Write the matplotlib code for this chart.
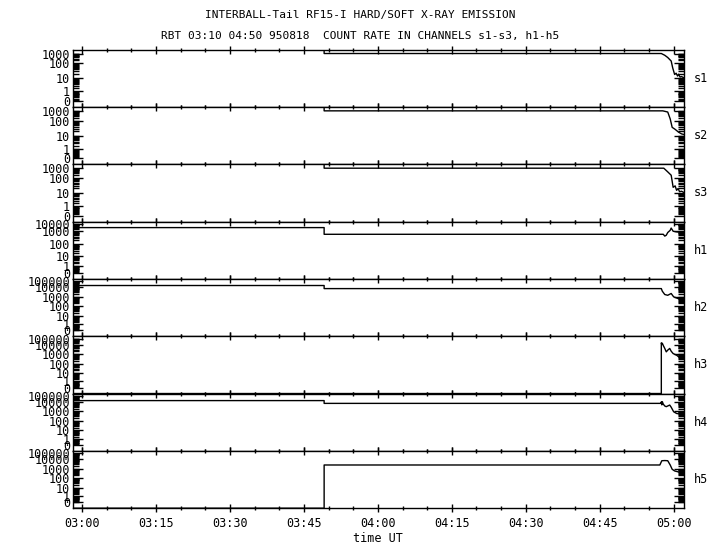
import numpy as np
import matplotlib
matplotlib.use("Agg")
import matplotlib.pyplot as plt
from matplotlib.ticker import FixedLocator, FuncFormatter, MultipleLocator

plt.rcParams['font.family'] = ['DejaVu Sans Mono']

# time in minutes after 03:00 UT, count rates per channel
# (values below 0 = below axis, very large = above axis)
t_s1 = [49.1, 49.1, 117.5, 118.2, 118.8, 119.5, 119.8, 120.2, 120.5, 120.8, 121.0, 121.3, 121.6, 122.0]
s1 = [1e6, 1000, 1000, 660, 390, 170, 51, 18, 22, 14, 19, 12, 13, 11]

t_s2 = [49.1, 49.1, 117.8, 118.8, 119.3, 119.7, 120.2, 120.6, 121.0, 121.6, 122.0]
s2 = [1e6, 1000, 1000, 760, 150, 36, 28, 22, 17, 13, 12]

t_s3 = [49.1, 49.1, 118.0, 118.8, 119.5, 119.9, 120.3, 120.6, 120.9, 121.2, 121.6, 122.0]
s3 = [1e6, 1000, 1000, 420, 190, 24, 30, 15, 20, 12, 13, 11]

t_h1 = [-1.9, 49.1, 49.1, 117.9, 118.2, 118.5, 118.8, 119.3, 119.5, 119.9, 120.6, 121.2, 122.0]
h1 = [3100, 3100, 590, 590, 430, 500, 800, 1350, 2700, 1000, 900, 850, 850]

t_h2 = [-1.9, 49.1, 49.1, 117.5, 117.7, 118.2, 118.8, 119.5, 120.0, 120.4, 120.9, 121.6, 122.0]
h2 = [21000, 21000, 7500, 7500, 3900, 1700, 1400, 2200, 950, 800, 630, 440, 420]

t_h3 = [-1.9, 117.5, 117.5, 117.6, 117.7, 117.9, 118.2, 118.5, 118.8, 119.2, 119.5, 119.9, 120.6, 121.2, 122.0]
h3 = [-1, -1, 21000, 12000, 18000, 8300, 4000, 1700, 2600, 4000, 2000, 1100, 750, 420, 350]

t_h4 = [-1.9, 49.1, 49.1, 117.4, 117.5, 117.6, 117.7, 117.9, 118.2, 118.5, 119.2, 119.5, 120.0, 120.6, 121.6, 122.0]
h4 = [18000, 18000, 7300, 7300, 11000, 5000, 12000, 6000, 3800, 3200, 4800, 2800, 900, 600, 500, 480]

t_h5 = [-1.9, 49.1, 49.1, 117.2, 117.6, 118.2, 118.8, 119.3, 119.7, 120.2, 120.9, 121.6, 122.0]
h5 = [-1, -1, 2500, 2500, 7300, 7600, 7300, 2500, 860, 580, 470, 350, 330]

channels = ["s1", "s2", "s3", "h1", "h2", "h3", "h4", "h5"]
times = [t_s1, t_s2, t_s3, t_h1, t_h2, t_h3, t_h4, t_h5]
counts = [s1, s2, s3, h1, h2, h3, h4, h5]

# tick values and where they sit on each panel (fraction of panel height)
ticks_s = [0, 1, 10, 100, 1000]
pos_s = [0.10, 0.27, 0.50, 0.76, 0.93]
ticks_h1 = [0, 1, 10, 100, 1000, 10000]
pos_h1 = [0.10, 0.23, 0.40, 0.60, 0.83, 0.96]
ticks_h = [0, 1, 10, 100, 1000, 10000, 100000]
pos_h = [0.10, 0.21, 0.36, 0.52, 0.69, 0.85, 0.955]
panel_ticks = [ticks_s] * 3 + [ticks_h1] + [ticks_h] * 4
panel_pos = [pos_s] * 3 + [pos_h1] + [pos_h] * 4


def make_scale(vals, pos):
    Lk = np.concatenate([[-0.3], np.log10(np.array(vals, float) + 1.0),
                         [np.log10(vals[-1] + 1.0) + 0.45]])
    pk = np.concatenate([[0.0], pos, [1.0]])

    def fwd(x):
        x = np.asarray(x, float)
        L = np.log10(np.clip(x + 1.0, 1e-9, None))
        return np.interp(L, Lk, pk)

    def inv(p):
        p = np.asarray(p, float)
        return 10 ** np.interp(p, pk, Lk) - 1.0

    return fwd, inv


fig = plt.figure(figsize=(7.2, 5.5), dpi=100)
axes = fig.subplots(8, 1, sharex=True)
fig.subplots_adjust(left=0.101, right=0.95, top=0.910, bottom=0.076, hspace=0)

for ax, name, t, c, tv, tp in zip(axes, channels, times, counts, panel_ticks, panel_pos):
    fwd, inv = make_scale(tv, tp)
    ax.set_yscale('function', functions=(fwd, inv))
    ax.plot(t, c, color='black', lw=1.0)
    ax.set_ylim(float(inv(0.0)), float(inv(1.0)))

    minors = [m * 10.0 ** k for k in range(-1, len(tv) - 2) for m in range(1, 10)
              if 0 < m * 10.0 ** k < tv[-1] and m * 10.0 ** k not in tv]
    ax.yaxis.set_major_locator(FixedLocator(tv))
    ax.yaxis.set_minor_locator(FixedLocator(minors))
    ax.yaxis.set_major_formatter(FuncFormatter(lambda v, _: f"{int(round(v))}"))
    ax.tick_params(axis='y', which='both', direction='in', left=True, right=True,
                   labelsize=8.5, pad=2)
    ax.tick_params(axis='y', which='major', length=7.5, width=1)
    ax.tick_params(axis='y', which='minor', length=4, width=1)

    ax.xaxis.set_major_locator(MultipleLocator(15))
    ax.xaxis.set_minor_locator(MultipleLocator(5))
    ax.tick_params(axis='x', which='both', direction='inout', top=True, bottom=True,
                   labelsize=8.5)
    ax.tick_params(axis='x', which='major', length=6, width=1)
    ax.tick_params(axis='x', which='minor', length=3, width=1)

    for sp in ax.spines.values():
        sp.set_linewidth(1.0)

    ax.text(1.016, 0.5, name, transform=ax.transAxes, ha='left', va='center', fontsize=8.5)

axes[-1].set_xlim(-1.9, 122.1)
axes[-1].xaxis.set_major_formatter(
    FuncFormatter(lambda m, _: f"{3 + int(m // 60):02d}:{int(round(m % 60)):02d}"))
axes[-1].set_xlabel("time UT", fontsize=8.5, labelpad=1)

fig.text(0.5, 1 - 15 / 550, "INTERBALL-Tail RF15-I HARD/SOFT X-RAY EMISSION",
         ha='center', va='center', fontsize=8)
fig.text(0.5, 1 - 36 / 550, "RBT 03:10 04:50 950818  COUNT RATE IN CHANNELS s1-s3, h1-h5",
         ha='center', va='center', fontsize=8)

fig.savefig("out.png", dpi=100)
